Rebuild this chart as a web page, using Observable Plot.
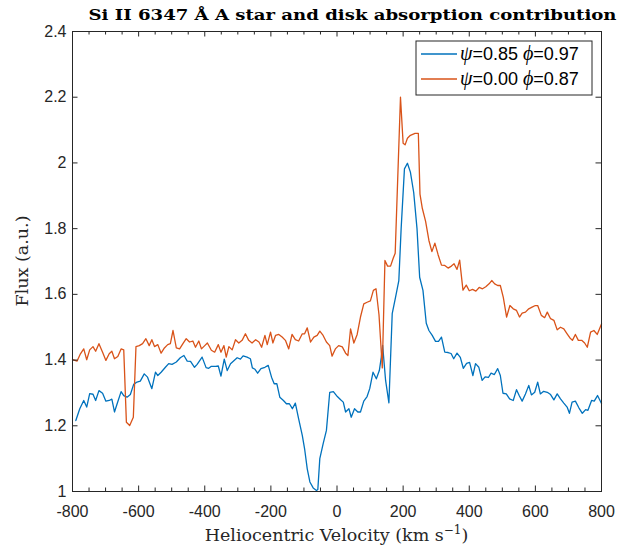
<!DOCTYPE html>
<html><head><meta charset="utf-8">
<script src="https://cdn.jsdelivr.net/npm/d3@7"></script>
<script src="https://cdn.jsdelivr.net/npm/@observablehq/plot@0.6"></script>
<style>body{margin:0;background:#fff}svg{overflow:visible}</style>
</head><body><div id="chart"></div>
<script>
// [velocity km/s, flux a.u.]
const seriesBlue = [[-790,1.216],[-778,1.252],[-766,1.277],[-757,1.257],[-748,1.298],[-738,1.296],[-730,1.277],[-720,1.307],[-709,1.299],[-699,1.275],[-689,1.277],[-681,1.281],[-673,1.242],[-665,1.267],[-653,1.304],[-645,1.292],[-635,1.287],[-625,1.295],[-615,1.326],[-605,1.333],[-595,1.336],[-583,1.358],[-573,1.348],[-560,1.313],[-549,1.363],[-542,1.353],[-532,1.363],[-519,1.378],[-509,1.389],[-499,1.387],[-486,1.394],[-474,1.407],[-463,1.414],[-453,1.397],[-443,1.396],[-431,1.378],[-423,1.387],[-408,1.409],[-396,1.377],[-388,1.375],[-380,1.381],[-367,1.381],[-359,1.382],[-351,1.351],[-341,1.403],[-332,1.368],[-322,1.389],[-312,1.398],[-302,1.407],[-292,1.403],[-284,1.413],[-272,1.409],[-262,1.404],[-256,1.376],[-248,1.372],[-240,1.360],[-230,1.374],[-218,1.378],[-208,1.384],[-198,1.348],[-190,1.328],[-182,1.328],[-173,1.287],[-162,1.277],[-153,1.267],[-144,1.267],[-135,1.252],[-126,1.269],[-116,1.221],[-105,1.171],[-98,1.130],[-90,1.069],[-82,1.029],[-72,1.011],[-62,1.003],[-58,1.006],[-52,1.100],[-42,1.145],[-32,1.186],[-22,1.302],[-11,1.304],[1,1.289],[11,1.279],[19,1.272],[26,1.242],[36,1.252],[43,1.226],[53,1.252],[63,1.242],[71,1.242],[81,1.275],[91,1.289],[99,1.313],[109,1.363],[119,1.343],[128,1.368],[134,1.409],[138,1.445],[147,1.338],[157,1.270],[167,1.541],[177,1.591],[187,1.642],[194,1.800],[204,1.982],[213,1.999],[222,1.972],[232,1.910],[242,1.800],[250,1.652],[260,1.612],[270,1.512],[278,1.490],[288,1.475],[298,1.457],[307,1.457],[316,1.470],[326,1.424],[336,1.423],[345,1.420],[353,1.404],[363,1.421],[373,1.408],[382,1.375],[392,1.390],[401,1.393],[411,1.353],[419,1.389],[429,1.378],[439,1.338],[448,1.349],[458,1.347],[466,1.360],[476,1.356],[486,1.374],[494,1.353],[502,1.299],[512,1.297],[522,1.282],[533,1.277],[543,1.310],[551,1.292],[560,1.275],[570,1.297],[580,1.323],[588,1.294],[598,1.302],[607,1.333],[615,1.297],[625,1.305],[636,1.302],[646,1.295],[656,1.279],[666,1.297],[676,1.282],[686,1.269],[696,1.257],[703,1.238],[711,1.272],[721,1.275],[732,1.254],[742,1.238],[752,1.249],[759,1.247],[770,1.277],[778,1.275],[788,1.292],[800,1.268]];

const seriesOrange = [[-800,1.401],[-786,1.397],[-776,1.419],[-766,1.434],[-757,1.401],[-748,1.431],[-738,1.441],[-730,1.427],[-720,1.450],[-709,1.424],[-699,1.399],[-689,1.419],[-681,1.427],[-673,1.404],[-663,1.411],[-653,1.434],[-645,1.431],[-637,1.211],[-627,1.201],[-616,1.226],[-608,1.441],[-598,1.444],[-588,1.450],[-578,1.465],[-568,1.444],[-560,1.462],[-552,1.441],[-542,1.447],[-532,1.421],[-522,1.437],[-512,1.447],[-504,1.450],[-496,1.490],[-486,1.437],[-476,1.434],[-466,1.450],[-456,1.465],[-446,1.455],[-436,1.458],[-428,1.439],[-418,1.458],[-410,1.434],[-400,1.444],[-392,1.452],[-380,1.430],[-370,1.424],[-359,1.447],[-351,1.424],[-342,1.444],[-335,1.409],[-327,1.441],[-317,1.431],[-307,1.462],[-297,1.452],[-287,1.460],[-277,1.480],[-267,1.460],[-257,1.452],[-246,1.462],[-236,1.455],[-228,1.439],[-218,1.475],[-211,1.447],[-201,1.485],[-194,1.452],[-186,1.475],[-176,1.478],[-166,1.470],[-156,1.460],[-146,1.434],[-136,1.478],[-126,1.462],[-116,1.458],[-105,1.480],[-98,1.480],[-90,1.498],[-80,1.455],[-70,1.470],[-60,1.475],[-52,1.488],[-42,1.475],[-32,1.455],[-22,1.444],[-15,1.412],[-5,1.434],[5,1.444],[16,1.440],[26,1.421],[33,1.414],[41,1.495],[51,1.452],[61,1.478],[71,1.531],[81,1.571],[91,1.576],[101,1.580],[110,1.612],[118,1.617],[127,1.538],[137,1.376],[145,1.703],[153,1.686],[162,1.686],[170,1.710],[176,1.725],[192,2.200],[200,2.060],[206,2.055],[213,2.075],[222,2.084],[236,2.090],[246,2.090],[251,1.905],[258,1.862],[268,1.822],[278,1.764],[287,1.730],[296,1.756],[306,1.720],[316,1.689],[326,1.688],[336,1.680],[346,1.686],[354,1.693],[363,1.676],[371,1.704],[381,1.613],[391,1.628],[400,1.611],[410,1.615],[420,1.610],[430,1.621],[440,1.617],[450,1.623],[460,1.632],[468,1.642],[477,1.632],[486,1.627],[494,1.627],[503,1.591],[513,1.531],[523,1.566],[533,1.556],[543,1.551],[552,1.531],[560,1.543],[570,1.546],[580,1.556],[590,1.561],[600,1.566],[607,1.566],[618,1.536],[628,1.529],[636,1.546],[646,1.526],[656,1.521],[666,1.492],[676,1.500],[686,1.495],[696,1.480],[704,1.468],[712,1.460],[721,1.478],[730,1.460],[740,1.460],[749,1.452],[757,1.439],[767,1.485],[777,1.490],[787,1.478],[800,1.510]];

const seriesNames = [["ψ", "=0.85 ", "ϕ", "=0.97"], ["ψ", "=0.00 ", "ϕ", "=0.87"]];
const seriesColors = ["#0072BD", "#D95319"];
const xTicks = [-800, -600, -400, -200, 0, 200, 400, 600, 800];
const xMinorTicks = [-750,-700,-650,-550,-500,-450,-350,-300,-250,-150,-100,-50,50,100,150,250,300,350,450,500,550,650,700,750];
const yTicks = [1, 1.2, 1.4, 1.6, 1.8, 2, 2.2, 2.4];
const titleText = "Si II 6347 Å A star and disk absorption contribution";
const xLabel = "Heliocentric Velocity (km s";
const yLabel = "Flux (a.u.)";

const W = 629, H = 546, mL = 72, mR = 28, mT = 31, mB = 55;
const fw = W - mL - mR, fh = H - mT - mB;
const axisColor = "#262626";

const blueRows = seriesBlue.map(([v, f]) => ({v, f}));
const orangeRows = seriesOrange.map(([v, f]) => ({v, f}));

const plot = Plot.plot({
  width: W, height: H,
  marginLeft: mL, marginRight: mR, marginTop: mT, marginBottom: mB,
  style: {fontFamily: "'Liberation Sans', Arial, sans-serif", fontSize: "16px", color: axisColor, background: "#fff"},
  x: {domain: [-800, 800]},
  y: {domain: [1, 2.4]},
  marks: [
    Plot.line(blueRows, {x: "v", y: "f", stroke: seriesColors[0], strokeWidth: 1.3}),
    Plot.line(orangeRows, {x: "v", y: "f", stroke: seriesColors[1], strokeWidth: 1.3}),
    Plot.ruleX(xMinorTicks, {insetTop: fh - 3.5, stroke: axisColor}),
    Plot.ruleX(xMinorTicks, {insetBottom: fh - 3.5, stroke: axisColor}),
    Plot.ruleX(xTicks, {insetTop: fh - 5.5, stroke: axisColor}),
    Plot.ruleX(xTicks, {insetBottom: fh - 5.5, stroke: axisColor}),
    Plot.ruleY(yTicks, {insetRight: fw - 5.5, stroke: axisColor}),
    Plot.ruleY(yTicks, {insetLeft: fw - 5.5, stroke: axisColor}),
    Plot.frame({stroke: axisColor, strokeWidth: 1}),
    Plot.axisX(xTicks, {tickSize: 0, tickPadding: 14, tickFormat: d => String(d), label: null, fill: axisColor}),
    Plot.axisY(yTicks, {tickSize: 0, tickPadding: 6, tickFormat: d => String(d), label: null, fill: axisColor})
  ]
});
document.getElementById("chart").appendChild(plot);

const svg = d3.select(plot);
const serif = "'DejaVu Serif', 'Liberation Serif', serif";
// title
svg.append("text").attr("x", mL + fw / 2 + 16).attr("y", 20).attr("text-anchor", "middle")
  .attr("font-family", serif).attr("font-weight", "bold").attr("font-size", 15.5).attr("fill", "#000")
  .attr("textLength", 528).attr("lengthAdjust", "spacingAndGlyphs")
  .text(titleText);
// x label
const xl = svg.append("text").attr("x", mL + fw / 2).attr("y", H - 5).attr("text-anchor", "middle")
  .attr("font-family", serif).attr("font-size", 17.5).attr("fill", "#262626");
xl.append("tspan").text(xLabel);
xl.append("tspan").attr("font-size", 12).attr("dy", -7).text("−1");
xl.append("tspan").attr("dy", 7).text(")");
// y label
svg.append("text").attr("transform", `translate(28,${mT + fh / 2}) rotate(-90)`).attr("text-anchor", "middle")
  .attr("font-family", serif).attr("font-size", 17.5).attr("fill", "#262626").text(yLabel);
// legend
const lg = svg.append("g").attr("transform", `translate(${mL + fw - 185},${mT + 10})`).attr("text-anchor", "start");
lg.append("rect").attr("x", 0).attr("y", 0).attr("width", 176).attr("height", 54)
  .attr("fill", "#fff").attr("stroke", axisColor).attr("stroke-width", 1);
seriesNames.forEach((parts, i) => {
  const cy = 13 + i * 25;
  lg.append("line").attr("x1", 5).attr("x2", 41).attr("y1", cy).attr("y2", cy)
    .attr("stroke", seriesColors[i]).attr("stroke-width", 1.3);
  const t = lg.append("text").attr("x", 44).attr("y", cy + 6).attr("font-size", 18).attr("fill", "#000")
    .attr("text-anchor", "start").attr("font-family", "'Liberation Sans', Arial, sans-serif");
  parts.forEach((p, j) => {
    const ts = t.append("tspan").text(p);
    if (j % 2 === 0) ts.attr("font-family", "'Liberation Serif', serif").attr("font-style", "italic").attr("font-size", 20);
  });
});
</script>
</body></html>
